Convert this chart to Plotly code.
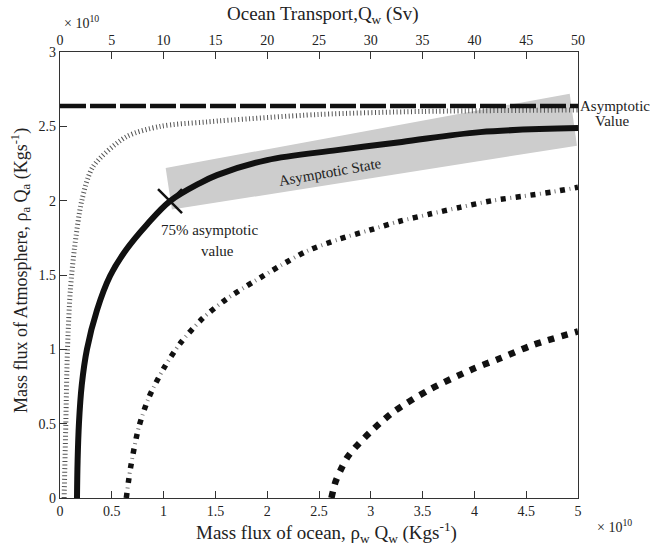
import plotly.graph_objects as go

# ---------------- data ----------------
solid_x = [0.164, 0.17, 0.183, 0.21, 0.26, 0.357, 0.483, 0.637, 0.84, 1.062, 1.351, 1.515, 1.998, 2.674, 3.3, 4.054, 5.0]
solid_y = [0.00, 0.25, 0.504, 0.76, 1.00, 1.264, 1.493, 1.668, 1.84, 1.997, 2.118, 2.172, 2.273, 2.340, 2.395, 2.461, 2.488]

hatch_x = [0.04, 0.056, 0.072, 0.10, 0.14, 0.21, 0.32, 0.64, 0.97, 1.42, 2.5, 3.5, 5.0]
hatch_y = [0.00, 0.50, 1.00, 1.40, 1.68, 2.00, 2.23, 2.43, 2.50, 2.53, 2.58, 2.60, 2.61]

dashdot_x = [0.64, 0.68, 0.76, 0.86, 1.00, 1.16, 1.38, 1.61, 1.87, 2.12, 2.38, 2.69, 2.98, 3.27, 3.57, 3.86, 4.17, 4.47, 4.76, 5.0]
dashdot_y = [0.00, 0.20, 0.475, 0.68, 0.87, 1.04, 1.21, 1.34, 1.455, 1.56, 1.66, 1.74, 1.80, 1.86, 1.91, 1.955, 2.00, 2.03, 2.06, 2.09]

dotted_x = [2.62, 2.66, 2.71, 2.77, 2.85, 3.02, 3.22, 3.57, 3.96, 4.25, 4.57, 5.0]
dotted_y = [0.00, 0.11, 0.19, 0.27, 0.34, 0.46, 0.58, 0.73, 0.86, 0.94, 1.03, 1.12]

asym_x = [0.0, 5.0]
asym_y = [2.636, 2.636]

band_x = [1.02, 4.92, 4.99, 1.08]
band_y = [2.22, 2.72, 2.37, 1.94]

mark_x = [1.062]
mark_y = [1.997]

bottom_ticks = [0, 0.5, 1, 1.5, 2, 2.5, 3, 3.5, 4, 4.5, 5]
bottom_labels = ["0", "0.5", "1", "1.5", "2", "2.5", "3", "3.5", "4", "4.5", "5"]
top_ticks = [0, 5, 10, 15, 20, 25, 30, 35, 40, 45, 50]
top_labels = [str(v) for v in top_ticks]
left_ticks = [0, 0.5, 1, 1.5, 2, 2.5, 3]
left_labels = ["0", "0.5", "1", "1.5", "2", "2.5", "3"]

# ---------------- layout geometry ----------------
W, H = 652, 549
L, R, T, B = 60, 74, 52, 51
PW, PH = W - L - R, H - T - B
FONT = "Liberation Serif"


def px_x(px):
    return (px - L) / PW


def px_y(py):
    return (H - B - py) / PH


fig = go.Figure()

# shaded asymptotic band
fig.add_trace(go.Scatter(x=band_x + band_x[:1], y=band_y + band_y[:1], mode="lines",
                         fill="toself", fillcolor="#cdcdcd", line=dict(width=0),
                         hoverinfo="skip", showlegend=False))

# hatched thin curve (ticks perpendicular to path)
fig.add_trace(go.Scatter(x=hatch_x, y=hatch_y, mode="lines",
                         line=dict(color="#555555", width=5, dash="1px,2.6px", shape="spline", smoothing=0.8),
                         hoverinfo="skip", showlegend=False))

# dashed asymptote
fig.add_trace(go.Scatter(x=asym_x, y=asym_y, mode="lines",
                         line=dict(color="#111111", width=4.5, dash="26px,4px"),
                         hoverinfo="skip", showlegend=False))

# dash-dot curve: squares + thin ticks between
fig.add_trace(go.Scatter(x=dashdot_x, y=dashdot_y, mode="lines",
                         line=dict(color="#111111", width=5.5, dash="5px,10px", shape="spline", smoothing=0.8),
                         hoverinfo="skip", showlegend=False))
fig.add_trace(go.Scatter(x=dashdot_x, y=dashdot_y, mode="lines",
                         line=dict(color="#777777", width=4, dash="0px,9.5px,1px,4.5px", shape="spline", smoothing=0.8),
                         hoverinfo="skip", showlegend=False))

# dotted curve
fig.add_trace(go.Scatter(x=dotted_x, y=dotted_y, mode="lines",
                         line=dict(color="#111111", width=6.5, dash="6.5px,7.5px", shape="spline", smoothing=0.8),
                         hoverinfo="skip", showlegend=False))

# solid curve
fig.add_trace(go.Scatter(x=solid_x, y=solid_y, mode="lines",
                         line=dict(color="#111111", width=6, shape="spline", smoothing=1.0),
                         hoverinfo="skip", showlegend=False))

# 75% cross marker
fig.add_trace(go.Scatter(x=mark_x, y=mark_y, mode="markers",
                         marker=dict(symbol="x-thin", size=24, color="#111111",
                                     line=dict(width=2.5, color="#111111")),
                         hoverinfo="skip", showlegend=False))

# invisible trace for the top axis
fig.add_trace(go.Scatter(x=[top_ticks[0], top_ticks[-1]], y=[0, 0], xaxis="x2", mode="lines",
                         line=dict(width=0, color="rgba(0,0,0,0)"), hoverinfo="skip", showlegend=False))

axis_common = dict(showgrid=False, zeroline=False, showline=True, linecolor="#333333", linewidth=1.3,
                   ticks="inside", ticklen=7, tickwidth=1, tickcolor="#333333",
                   tickfont=dict(family=FONT, size=14, color="#222222"))

fig.update_layout(
    width=W, height=H, autosize=False,
    margin=dict(l=L, r=R, t=T, b=B, pad=0),
    paper_bgcolor="white", plot_bgcolor="white",
    xaxis=dict(range=[0, 5], tickvals=bottom_ticks, ticktext=bottom_labels, **axis_common),
    xaxis2=dict(range=[0, 50], overlaying="x", side="top", tickvals=top_ticks, ticktext=top_labels,
                **axis_common),
    yaxis=dict(range=[0, 3], tickvals=left_ticks, ticktext=left_labels, mirror=True, **axis_common),
    font=dict(family=FONT, color="#222222"),
)

ann = []


def add_text(text, px, py, size, angle=0, xanchor="center", yanchor="middle"):
    ann.append(dict(text=text, x=px_x(px), y=px_y(py), xref="paper", yref="paper",
                    showarrow=False, textangle=angle, xanchor=xanchor, yanchor=yanchor,
                    font=dict(family=FONT, size=size, color="#222222")))


add_text("Ocean Transport,Q<sub>w</sub> (Sv)", 323, 15, 19)
add_text("× 10<sup>10</sup>", 62, 22, 14, xanchor="left")
add_text("Mass flux of ocean, ρ<sub>w</sub> Q<sub>w</sub> (Kgs<sup>-1</sup>)", 326, 532, 19)
add_text("× 10<sup>10</sup>", 614, 526, 14)
add_text("Mass flux of Atmosphere, ρ<sub>a</sub> Q<sub>a</sub> (Kgs<sup>-1</sup>)", 20, 271, 18, angle=-90)
add_text("Asymptotic", 615, 106, 15)
add_text("Value", 612, 121, 15)
add_text("Asymptotic State", 330, 172, 15, angle=-10)
add_text("75% asymptotic", 209, 230, 15)
add_text("value", 217, 251, 15)

fig.update_layout(annotations=ann)

fig.write_html("out.html")
